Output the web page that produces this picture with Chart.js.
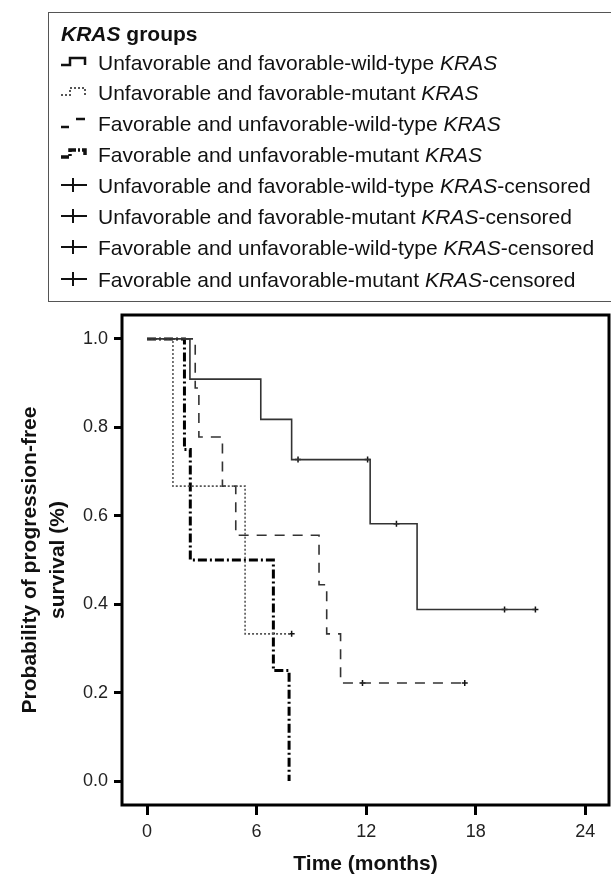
<!DOCTYPE html>
<html lang="en">

<head>
  <meta charset="UTF-8">
  <title>KRAS groups - progression-free survival</title>
  <style>
    body { margin: 0; background: #fff; font-family: "Liberation Sans", Arial, sans-serif; }
    .wrap { position: relative; width: 611px; height: 877px; overflow: hidden; }
    #chart { position: absolute; left: 0; top: 0; }
    .legend {
      position: absolute; left: 48px; top: 12px; width: 600px; height: 288px;
      border: 1px solid #555; color: #111; font-size: 21px;
    }
    .legend .title { position: absolute; left: 12px; top: 9px; font-weight: bold; font-size: 21px; }
    .legend .row { position: absolute; left: 11px; height: 22px; line-height: 22px; white-space: nowrap; }
    .legend svg { vertical-align: middle; margin-right: 10px; position: relative; top: -2px; }
  </style>
</head>

<body>
  <div class="wrap">
    <canvas id="chart" width="611" height="877"></canvas>
    <div class="legend" id="legend">
      <div class="title"><i>KRAS</i> groups</div>
    </div>
  </div>

  <script src="https://cdn.jsdelivr.net/npm/chart.js"></script>
  <script>
    // Kaplan-Meier step points (months, survival)
    const wtUnfavTimes = [0, 2.35, 6.23, 7.92, 12.22, 14.79, 21.27];
    const wtUnfavSurv = [1.0, 0.909, 0.818, 0.727, 0.582, 0.388, 0.388];
    const wtUnfavCensT = [8.27, 12.08, 13.66, 19.58, 21.27];
    const wtUnfavCensS = [0.727, 0.727, 0.582, 0.388, 0.388];

    const mutUnfavTimes = [0, 1.42, 5.37, 7.92];
    const mutUnfavSurv = [1.0, 0.667, 0.333, 0.333];
    const mutUnfavCensT = [7.92];
    const mutUnfavCensS = [0.333];

    const wtFavTimes = [0, 2.64, 2.84, 4.13, 4.86, 9.42, 9.84, 10.6, 17.4];
    const wtFavSurv = [1.0, 0.889, 0.778, 0.667, 0.556, 0.444, 0.333, 0.222, 0.222];
    const wtFavCensT = [11.8, 17.4];
    const wtFavCensS = [0.222, 0.222];

    const mutFavTimes = [0, 2.05, 2.37, 6.92, 7.78];
    const mutFavSurv = [1.0, 0.75, 0.5, 0.25, 0.0];

    const xTicks = [0, 6, 12, 18, 24];
    const yTicks = [0.0, 0.2, 0.4, 0.6, 0.8, 1.0];

    const groupNames = [
      'Unfavorable and favorable-wild-type ',
      'Unfavorable and favorable-mutant ',
      'Favorable and unfavorable-wild-type ',
      'Favorable and unfavorable-mutant '
    ];

    const toPts = (ts, ss) => ts.map((t, i) => ({ x: t, y: ss[i] }));

    function stepLine(ts, ss, color, width, dash) {
      return {
        type: 'line', data: toPts(ts, ss), stepped: 'before',
        borderColor: color, borderWidth: width, borderDash: dash,
        pointRadius: 0, fill: false, borderCapStyle: 'butt'
      };
    }
    function censor(ts, ss) {
      return {
        type: 'scatter', data: toPts(ts, ss), showLine: false,
        pointStyle: 'cross', pointRadius: 3, borderColor: '#111',
        borderWidth: 1.5, backgroundColor: '#111'
      };
    }

    // legend (HTML so the italic KRAS stays real text)
    const iconPaths = [
      '<path d="M1 11 H10 V4 H25 V11" fill="none" stroke="#111" stroke-width="2.5"/>',
      '<path d="M1 11 H10 V4 H25 V11" fill="none" stroke="#555" stroke-width="2" stroke-dasharray="2 2"/>',
      '<path d="M1 12 H9 M16 4 H25" fill="none" stroke="#111" stroke-width="2.5"/>',
      '<path d="M1 11 H10 V4 H25 V11" fill="none" stroke="#111" stroke-width="3.5" stroke-dasharray="8 2 2 2"/>',
      '<path d="M1 8 H27 M13 1 V15" fill="none" stroke="#111" stroke-width="2"/>'
    ];
    const legend = document.getElementById('legend');
    const rowTops = [39, 68.5, 99.5, 131, 162, 193, 224, 256];
    for (let i = 0; i < 8; i++) {
      const row = document.createElement('div');
      row.className = 'row';
      row.style.top = rowTops[i] + 'px';
      const icon = i < 4 ? iconPaths[i] : iconPaths[4];
      row.innerHTML = '<svg width="28" height="16">' + icon + '</svg>' + groupNames[i % 4] + '<i>KRAS</i>' + (i < 4 ? '' : '-censored');
      legend.appendChild(row);
    }

    const plotBox = {
      id: 'plotBox',
      afterDatasetsDraw(chart) {
        const a = chart.chartArea, ctx = chart.ctx;
        ctx.save();
        ctx.strokeStyle = '#000';
        ctx.lineWidth = 3;
        ctx.strokeRect(a.left, a.top, a.right - a.left, a.bottom - a.top);
        ctx.restore();
      }
    };

    const ctx = document.getElementById('chart').getContext('2d');
    new Chart(ctx, {
      data: {
        datasets: [
          stepLine(wtUnfavTimes, wtUnfavSurv, '#333', 1.6, []),
          stepLine(mutUnfavTimes, mutUnfavSurv, '#555', 1.6, [2, 2]),
          stepLine(wtFavTimes, wtFavSurv, '#333', 1.6, [10, 8]),
          stepLine(mutFavTimes, mutFavSurv, '#000', 3, [9, 3, 2, 3]),
          censor(wtUnfavCensT, wtUnfavCensS),
          censor(mutUnfavCensT, mutUnfavCensS),
          censor(wtFavCensT, wtFavCensS)
        ]
      },
      options: {
        responsive: false,
        animation: false,
        layout: { autoPadding: false, padding: { top: 315, right: 2, left: 0, bottom: 0 } },
        plugins: { legend: { display: false }, tooltip: { enabled: false } },
        scales: {
          x: {
            type: 'linear', min: -1.37, max: 25.3,
            afterBuildTicks: s => { s.ticks = xTicks.map(v => ({ value: v })); },
            afterFit: s => { s.height = 72; },
            border: { display: false },
            grid: { drawOnChartArea: false, tickLength: 10, tickWidth: 3, tickColor: '#000' },
            ticks: { color: '#222', font: { family: 'Liberation Sans', size: 18 }, padding: 6 },
            title: {
              display: true, text: 'Time (months)', color: '#111',
              font: { family: 'Liberation Sans', size: 21, weight: 'bold' }, padding: { top: 0, bottom: 0 }
            }
          },
          y: {
            type: 'linear', min: -0.054, max: 1.054,
            afterBuildTicks: s => { s.ticks = yTicks.map(v => ({ value: v })); },
            afterFit: s => { s.width = 122; },
            border: { display: false },
            grid: { drawOnChartArea: false, tickLength: 8, tickWidth: 3, tickColor: '#000' },
            ticks: {
              color: '#222', font: { family: 'Liberation Sans', size: 18 }, padding: 6,
              callback: v => v.toFixed(1)
            },
            title: {
              display: true, text: ['Probability of progression-free', 'survival (%)'], color: '#111',
              font: { family: 'Liberation Sans', size: 21, weight: 'bold', lineHeight: 1.3 }, padding: { top: 17, bottom: 0 }
            }
          }
        }
      },
      plugins: [plotBox]
    });
  </script>
</body>

</html>
